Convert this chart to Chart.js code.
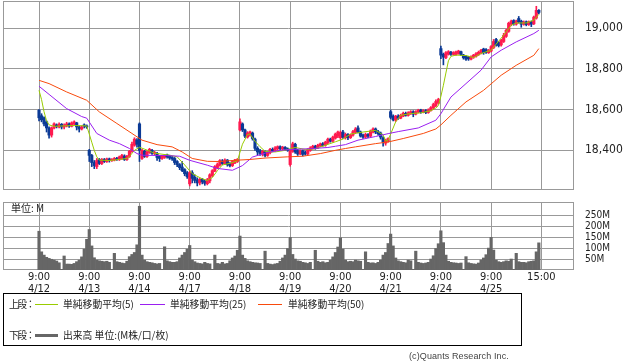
<!DOCTYPE html>
<html>
<head>
<meta charset="utf-8">
<script src="https://cdn.jsdelivr.net/npm/chart.js@4.4.1/dist/chart.umd.min.js"></script>
<style>
  body { margin:0; background:#fff; width:638px; height:362px; overflow:hidden; position:relative; font-family:'Noto Sans CJK JP', sans-serif; color:#222; }
  canvas { position:absolute; left:0; }
  #price { top:0; }
  #vol { top:190px; }
  .unit { position:absolute; left:11px; top:202px; font-size:10px; line-height:12px; }
  #legend { position:absolute; left:3px; top:293px; width:517px; height:51px; border:1px solid #000; font-size:9.8px; }
  #legend span { position:absolute; line-height:14px; white-space:nowrap; }
  #legend .hd { letter-spacing:-1.5px; }
  #legend i { position:absolute; height:1px; }
  .copy { position:absolute; left:409px; top:351px; font:9px 'Liberation Sans', sans-serif; color:#444; letter-spacing:0.1px; }
</style>
</head>
<body>
<canvas id="price" width="638" height="192"></canvas>
<canvas id="vol" width="638" height="110"></canvas>
<div class="unit">単位: M</div>
<div id="legend">
  <span class="hd" style="left:5px;top:3px">上段：</span>
  <i style="left:31px;top:10px;width:23px;background:#99cc00"></i>
  <span style="left:59px;top:3px">単純移動平均(5)</span>
  <i style="left:136px;top:10px;width:25px;background:#9a1ff0"></i>
  <span style="left:166px;top:3px">単純移動平均(25)</span>
  <i style="left:254px;top:10px;width:24px;background:#f84a0c"></i>
  <span style="left:284px;top:3px">単純移動平均(50)</span>
  <span class="hd" style="left:5px;top:34px">下段：</span>
  <i style="left:31px;top:40px;width:23px;height:3px;background:#666"></i>
  <span style="left:59px;top:34px">出来高 単位:(M株/口/枚)</span>
</div>
<div class="copy">(c)Quants Research Inc.</div>
<script>
// 15-minute bars, 20 per session day
const dayLabels = ['4/12', '4/13', '4/14', '4/17', '4/18', '4/19', '4/20', '4/21', '4/24', '4/25'];
const barsPerDay = 20;

const open = [
  18597,18570,18560,18540,18510,18475,18510,18525,18515,18528,18515,18520,18530,18518,18530,18535,18515,18505,18525,18520,
  18400,18375,18340,18320,18355,18335,18355,18345,18358,18350,18352,18360,18355,18362,18372,18355,18370,18395,18425,18450,
  18530,18360,18395,18370,18390,18400,18385,18385,18370,18360,18365,18378,18372,18365,18360,18345,18330,18318,18305,18290,
  18235,18290,18268,18255,18240,18258,18248,18236,18250,18275,18298,18315,18328,18348,18335,18352,18335,18325,18338,18345,
  18500,18530,18500,18465,18475,18485,18455,18410,18398,18382,18392,18375,18388,18405,18398,18408,18418,18406,18415,18408,
  18330,18395,18430,18398,18382,18398,18390,18382,18400,18410,18420,18412,18422,18432,18425,18438,18455,18445,18460,18470,
  18462,18490,18462,18478,18462,18475,18488,18510,18490,18475,18465,18478,18470,18490,18505,18492,18485,18462,18435,18445,
  18590,18568,18548,18568,18558,18568,18582,18572,18580,18590,18578,18588,18598,18588,18595,18586,18596,18608,18620,18632,
  18900,18872,18856,18872,18882,18872,18870,18876,18885,18868,18862,18858,18848,18858,18862,18870,18878,18898,18895,18880,
  18888,18905,18945,18930,18918,18935,18960,18985,19020,19038,19020,19048,19035,19020,19032,19018,19032,19022,19050,19088
];
const high = [
  18600,18580,18565,18545,18515,18515,18535,18530,18535,18532,18530,18538,18535,18540,18545,18538,18520,18520,18530,18525,
  18405,18380,18350,18360,18360,18360,18360,18362,18362,18360,18365,18365,18372,18380,18378,18375,18400,18440,18462,18458,
  18535,18405,18400,18398,18410,18405,18395,18390,18375,18376,18380,18382,18376,18370,18365,18350,18335,18345,18310,18296,
  18300,18300,18280,18265,18262,18262,18255,18262,18285,18305,18325,18338,18355,18355,18358,18355,18340,18350,18356,18360,
  18555,18535,18505,18492,18495,18490,18460,18418,18405,18400,18398,18395,18410,18412,18418,18422,18422,18420,18418,18412,
  18402,18440,18435,18405,18402,18402,18396,18408,18418,18425,18425,18430,18436,18438,18445,18460,18460,18470,18485,18495,
  18495,18498,18485,18482,18480,18498,18512,18520,18495,18480,18485,18482,18500,18510,18510,18498,18490,18468,18455,18462,
  18598,18575,18572,18575,18578,18588,18588,18590,18595,18595,18595,18602,18602,18600,18600,18604,18615,18632,18648,18656,
  18912,18878,18885,18890,18886,18885,18888,18892,18888,18872,18866,18862,18865,18872,18880,18888,18896,18902,18900,18896,
  18915,18945,18950,18935,18945,18975,18995,19030,19040,19042,19040,19058,19040,19036,19036,19036,19036,19060,19108,19092
];
const low = [
  18545,18540,18520,18490,18460,18465,18505,18510,18510,18505,18505,18515,18512,18515,18525,18500,18490,18500,18510,18508,
  18345,18320,18310,18310,18330,18330,18340,18340,18342,18345,18348,18350,18350,18355,18350,18350,18365,18390,18420,18415,
  18345,18355,18365,18365,18385,18380,18378,18350,18345,18355,18360,18362,18355,18350,18330,18320,18305,18295,18275,18262,
  18225,18240,18240,18225,18230,18235,18228,18230,18240,18270,18295,18310,18322,18330,18330,18322,18318,18320,18335,18340,
  18495,18492,18462,18460,18470,18450,18400,18378,18375,18372,18368,18370,18382,18392,18395,18402,18402,18402,18400,18395,
  18322,18390,18385,18375,18378,18372,18376,18378,18395,18405,18405,18408,18418,18420,18420,18432,18440,18440,18455,18462,
  18455,18458,18455,18452,18458,18470,18482,18485,18465,18458,18460,18462,18465,18485,18482,18475,18455,18420,18425,18440,
  18555,18545,18542,18552,18555,18565,18568,18568,18576,18565,18574,18584,18582,18584,18580,18582,18592,18602,18615,18628,
  18850,18820,18850,18868,18866,18868,18866,18872,18865,18848,18842,18842,18845,18852,18858,18866,18874,18872,18876,18876,
  18884,18900,18912,18908,18912,18930,18955,18980,19012,19015,19015,19025,19005,19015,19012,19014,19008,19018,19045,19070
];
const close = [
  18560,18550,18530,18510,18475,18510,18530,18518,18528,18515,18522,18530,18520,18535,18540,18515,18505,18515,18520,18515,
  18375,18340,18325,18350,18335,18355,18345,18358,18350,18355,18360,18355,18368,18375,18355,18370,18395,18430,18455,18430,
  18400,18400,18370,18392,18405,18385,18390,18365,18360,18372,18375,18368,18362,18358,18340,18330,18315,18300,18285,18270,
  18290,18262,18252,18240,18258,18245,18238,18255,18280,18300,18320,18330,18350,18335,18352,18330,18325,18345,18352,18355,
  18540,18500,18470,18485,18490,18458,18410,18392,18385,18395,18375,18390,18405,18398,18412,18418,18408,18415,18405,18400,
  18395,18432,18392,18382,18398,18380,18382,18402,18412,18420,18412,18425,18432,18425,18440,18455,18445,18465,18480,18490,
  18488,18465,18478,18462,18475,18492,18505,18490,18470,18465,18478,18470,18495,18505,18490,18482,18465,18440,18450,18458,
  18562,18550,18568,18558,18572,18582,18572,18585,18590,18578,18590,18598,18588,18595,18586,18598,18610,18625,18640,18650,
  18868,18858,18880,18885,18872,18880,18884,18888,18870,18855,18848,18850,18860,18868,18875,18882,18892,18880,18880,18892,
  18910,18935,18918,18915,18940,18965,18990,19025,19035,19022,19035,19032,19020,19030,19018,19032,19020,19055,19088,19078
];
// volume in millions
const volume = [
  177,83,68,58,53,49,45,41,33,3,64,27,27,26,30,38,45,60,95,140,
  185,110,56,45,42,40,38,40,35,3,76,38,35,32,30,40,61,71,80,115,
  291,68,45,38,35,33,30,28,30,3,106,42,38,35,35,38,55,68,80,95,
  112,45,38,32,30,28,35,30,28,3,68,30,28,35,28,30,42,55,64,90,
  155,68,53,42,38,35,33,32,30,3,86,30,27,25,28,30,40,55,68,98,
  149,71,50,42,40,35,33,30,35,3,90,40,35,38,33,35,45,60,80,105,
  147,95,45,38,40,38,45,42,40,3,83,35,32,33,30,35,45,68,80,121,
  164,110,55,42,38,35,33,45,42,3,86,35,32,30,32,35,50,65,98,120,
  179,125,68,40,35,33,32,30,32,3,61,33,30,28,27,32,45,55,70,100,
  149,91,45,38,35,38,42,40,50,3,76,38,35,35,33,38,40,42,83,124
];

// moving averages as [bar, value]
const ma5 = [
  [0,18695],[1,18650],[2,18590],[3,18545],[4,18525],[6,18518],[10,18520],[14,18522],[19,18520],[20,18480],
  [21,18440],[22,18400],[23,18368],[24,18352],[28,18350],[32,18355],[35,18360],[36,18370],[38,18400],[40,18415],
  [42,18406],[46,18386],[52,18376],[55,18368],[58,18328],[61,18285],[65,18260],[67,18252],[69,18266],[71,18300],
  [73,18328],[76,18336],[79,18348],[80,18390],[81,18430],[83,18478],[84,18480],[86,18445],[88,18418],[90,18395],
  [94,18392],[98,18400],[100,18408],[102,18414],[106,18404],[110,18408],[114,18425],[118,18442],[121,18455],[124,18480],
  [129,18490],[134,18498],[137,18476],[138,18445],[139,18450],[140,18480],[142,18540],[144,18572],[148,18581],[152,18584],
  [156,18595],[158,18608],[159,18620],[160,18665],[161,18720],[162,18780],[163,18840],[164,18862],[166,18868],[170,18866],
  [173,18856],[176,18876],[180,18892],[182,18922],[185,18966],[188,19015],[190,19026],[194,19026],[197,19040],[199,19068]
];
const ma25 = [
  [0,18715],[4,18675],[11,18605],[17,18566],[19,18558],[23,18483],[28,18450],[32,18433],[36,18409],[39,18384],
  [41,18376],[51,18374],[56,18371],[60,18351],[67,18327],[71,18311],[77,18302],[81,18325],[85,18367],[91,18390],
  [96,18400],[100,18404],[108,18408],[115,18414],[118,18420],[122,18428],[127,18450],[134,18468],[139,18482],[143,18492],
  [151,18510],[158,18548],[160,18580],[164,18662],[170,18728],[176,18794],[180,18859],[184,18892],[190,18933],[197,18974],
  [199,18990]
];
const ma50 = [
  [0,18744],[4,18728],[11,18687],[19,18646],[24,18589],[31,18532],[37,18483],[41,18450],[47,18428],[53,18417],
  [57,18392],[61,18360],[67,18346],[72,18345],[78,18351],[84,18355],[90,18362],[99,18368],[105,18371],[112,18384],
  [118,18400],[122,18409],[126,18417],[134,18433],[139,18441],[145,18458],[153,18483],[158,18505],[160,18525],[164,18572],
  [170,18638],[177,18695],[184,18769],[190,18818],[197,18867],[199,18900]
];

const priceTicks = [18400, 18600, 18800, 19000];
const volTicks = [50, 100, 150, 200, 250];

const UP = '#ff1a4f', DOWN = '#0b3a96';
const GRID = '#999999';
const FONT = "'DejaVu Sans Condensed', 'DejaVu Sans', sans-serif";

const bars = open.map((o, i) => i);
const candleColor = bars.map(i => close[i] >= open[i] ? UP : DOWN);
const dayTicks = dayLabels.map((d, k) => k * barsPerDay).concat(dayLabels.length * barsPerDay);

const frame = {
  id: 'frame',
  beforeDatasetsDraw(chart) {
    const { ctx, chartArea: a } = chart;
    ctx.save();
    ctx.strokeStyle = GRID;
    ctx.lineWidth = 1;
    ctx.strokeRect(Math.round(a.left) + 0.5, Math.round(a.top) + 0.5,
      Math.round(a.right - a.left) - 1, Math.round(a.bottom - a.top) - 1);
    ctx.restore();
  }
};

// fixed box sizes, no label padding
function fixSize(w, h) {
  return s => {
    if (w != null) s.width = w;
    if (h != null) s.height = h;
    s.paddingTop = s.paddingBottom = s.paddingLeft = s.paddingRight = 0;
  };
}

function xAxis(extra) {
  return Object.assign({
    type: 'linear', min: -14.34, max: 213.0, offset: false,
    afterBuildTicks: s => { s.ticks = dayTicks.map(v => ({ value: v })); },
    grid: { color: GRID, drawTicks: false, offset: false },
    border: { display: false }
  }, extra);
}

function line(points, color) {
  return {
    type: 'line', data: points.map(p => ({ x: p[0], y: p[1] })),
    borderColor: color, borderWidth: 1, pointRadius: 0, tension: 0, order: 0
  };
}

new Chart(document.getElementById('price'), {
  type: 'bar',
  data: {
    datasets: [
      line(ma50, '#f84a0c'),
      line(ma25, '#9a1ff0'),
      line(ma5, '#99cc00'),
      {
        data: bars.map(i => ({ x: i, y: [low[i], high[i]] })),
        backgroundColor: candleColor, barThickness: 1, grouped: false, order: 2
      },
      {
        data: bars.map(i => ({ x: i, y: [open[i], close[i]] })),
        backgroundColor: candleColor, barThickness: 2.5, minBarLength: 1, grouped: false, order: 1
      }
    ]
  },
  options: {
    responsive: false, animation: false, events: [], devicePixelRatio: 1,
    layout: { padding: { left: 3, top: 1, right: 0, bottom: 0 } },
    plugins: { legend: { display: false }, tooltip: { enabled: false } },
    scales: {
      x: xAxis({ ticks: { display: false }, afterFit: fixSize(null, 2) }),
      y: {
        position: 'right', min: 18205, max: 19134,
        afterBuildTicks: s => { s.ticks = priceTicks.map(v => ({ value: v })); },
        afterFit: fixSize(64, null),
        grid: { color: GRID, drawTicks: false },
        border: { display: false },
        ticks: { padding: 11, color: '#222', font: { family: FONT, size: 12 },
          callback: v => v.toLocaleString('en-US') }
      }
    }
  },
  plugins: [frame]
});

new Chart(document.getElementById('vol'), {
  type: 'bar',
  data: {
    datasets: [{
      data: bars.map(i => ({ x: i, y: volume[i] })),
      backgroundColor: '#666666', barThickness: 2.5, grouped: false
    }]
  },
  options: {
    responsive: false, animation: false, events: [], devicePixelRatio: 1,
    layout: { padding: { left: 3, top: 12, right: 0, bottom: 0 } },
    plugins: { legend: { display: false }, tooltip: { enabled: false } },
    scales: {
      x: xAxis({
        afterFit: fixSize(null, 30),
        ticks: {
          padding: 1, color: '#222', maxRotation: 0, autoSkip: false,
          font: { family: FONT, size: 11, lineHeight: 1.1 },
          callback: v => {
            const d = Math.round(v / barsPerDay);
            return d < dayLabels.length ? ['9:00', dayLabels[d]] : '15:00';
          }
        }
      }),
      y: {
        position: 'right', min: 0, max: 310.5,
        afterBuildTicks: s => { s.ticks = volTicks.map(v => ({ value: v })); },
        afterFit: fixSize(64, null),
        grid: { color: GRID, drawTicks: false },
        border: { display: false },
        ticks: { padding: 11, color: '#222', font: { family: FONT, size: 10 }, callback: v => v + 'M' }
      }
    }
  },
  plugins: [frame]
});
</script>
</body>
</html>
